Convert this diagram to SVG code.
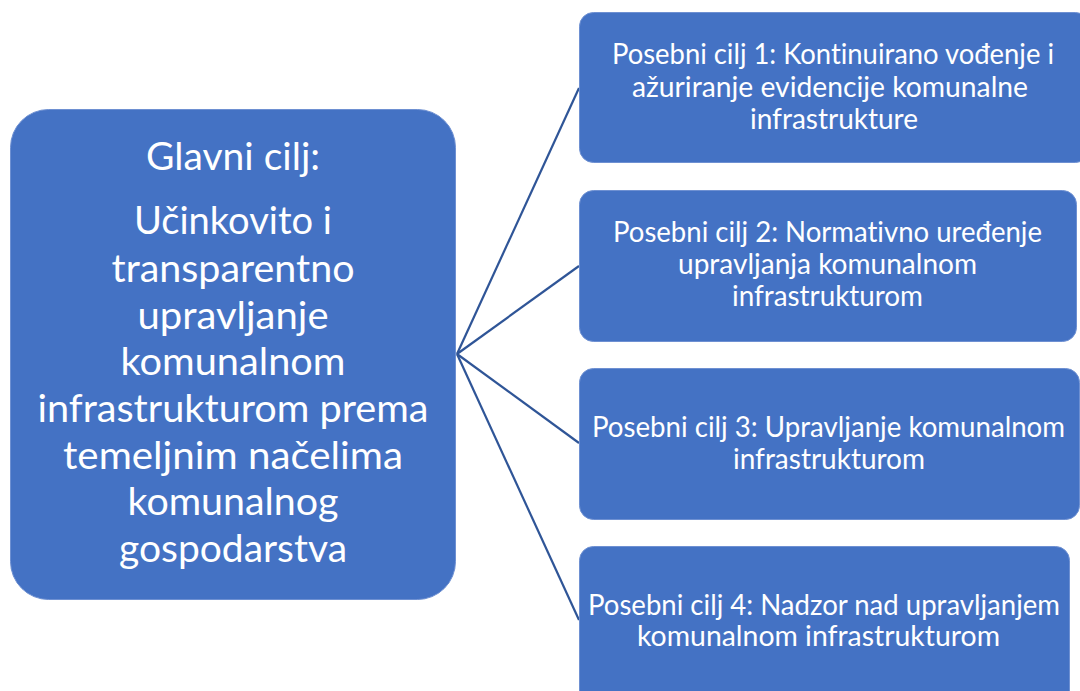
<svg xmlns="http://www.w3.org/2000/svg" width="1080" height="691" viewBox="0 0 1080 691">
<style>
.box{fill:#4472C4;stroke:#6E90D2;stroke-width:1}
.t{font-family:Lato,"Liberation Sans",sans-serif;fill:#FFFFFF;text-anchor:middle;font-variant-ligatures:none;font-feature-settings:"liga" 0}
.big{font-size:38.5px}
.sm{font-size:28px}
.conn{stroke:#2F5597;stroke-width:2.2;fill:none}
</style>
<rect width="1080" height="691" fill="#FFFFFF"/>
<g id="connectors">
<line class="conn" x1="457" y1="354" x2="579" y2="88"/>
<line class="conn" x1="457" y1="354" x2="579" y2="266"/>
<line class="conn" x1="457" y1="354" x2="579" y2="443"/>
<line class="conn" x1="457" y1="354" x2="579" y2="620"/>
</g>
<g id="main">
<rect class="box" x="10.5" y="109.5" width="445" height="490" rx="38"/>
<text class="t big" x="233" y="170" textLength="174" lengthAdjust="spacingAndGlyphs">Glavni cilj:</text>
<text class="t big" x="233" y="233.5" textLength="198" lengthAdjust="spacingAndGlyphs">Učinkovito i</text>
<text class="t big" x="233" y="281.5" textLength="243" lengthAdjust="spacingAndGlyphs">transparentno</text>
<text class="t big" x="233" y="328.5" textLength="191" lengthAdjust="spacingAndGlyphs">upravljanje</text>
<text class="t big" x="233" y="375" textLength="225" lengthAdjust="spacingAndGlyphs">komunalnom</text>
<text class="t big" x="233" y="421.5" textLength="391" lengthAdjust="spacingAndGlyphs">infrastrukturom prema</text>
<text class="t big" x="233" y="468.5" textLength="340" lengthAdjust="spacingAndGlyphs">temeljnim načelima</text>
<text class="t big" x="233" y="515" textLength="211" lengthAdjust="spacingAndGlyphs">komunalnog</text>
<text class="t big" x="233" y="561.5" textLength="228" lengthAdjust="spacingAndGlyphs">gospodarstva</text>
</g>
<g id="goal1">
<rect class="box" x="579.5" y="12.5" width="510" height="150" rx="14"/>
<text class="t sm" x="833" y="64" textLength="442" lengthAdjust="spacingAndGlyphs">Posebni cilj 1: Kontinuirano vođenje i</text>
<text class="t sm" x="830" y="96.5" textLength="396" lengthAdjust="spacingAndGlyphs">ažuriranje evidencije komunalne</text>
<text class="t sm" x="834" y="128.5" textLength="168" lengthAdjust="spacingAndGlyphs">infrastrukture</text>
</g>
<g id="goal2">
<rect class="box" x="579.5" y="190.5" width="497" height="151" rx="14"/>
<text class="t sm" x="827.5" y="242" textLength="429" lengthAdjust="spacingAndGlyphs">Posebni cilj 2: Normativno uređenje</text>
<text class="t sm" x="827.5" y="274" textLength="299" lengthAdjust="spacingAndGlyphs">upravljanja komunalnom</text>
<text class="t sm" x="827.5" y="306" textLength="191" lengthAdjust="spacingAndGlyphs">infrastrukturom</text>
</g>
<g id="goal3">
<rect class="box" x="579.5" y="368.5" width="500" height="151" rx="14"/>
<text class="t sm" x="828.5" y="437" textLength="473" lengthAdjust="spacingAndGlyphs">Posebni cilj 3: Upravljanje komunalnom</text>
<text class="t sm" x="829" y="469" textLength="192" lengthAdjust="spacingAndGlyphs">infrastrukturom</text>
</g>
<g id="goal4">
<rect class="box" x="579.5" y="546.5" width="490" height="160" rx="14"/>
<text class="t sm" x="824" y="615" textLength="472" lengthAdjust="spacingAndGlyphs">Posebni cilj 4: Nadzor nad upravljanjem</text>
<text class="t sm" x="818.5" y="646" textLength="363" lengthAdjust="spacingAndGlyphs">komunalnom infrastrukturom</text>
</g>
</svg>
